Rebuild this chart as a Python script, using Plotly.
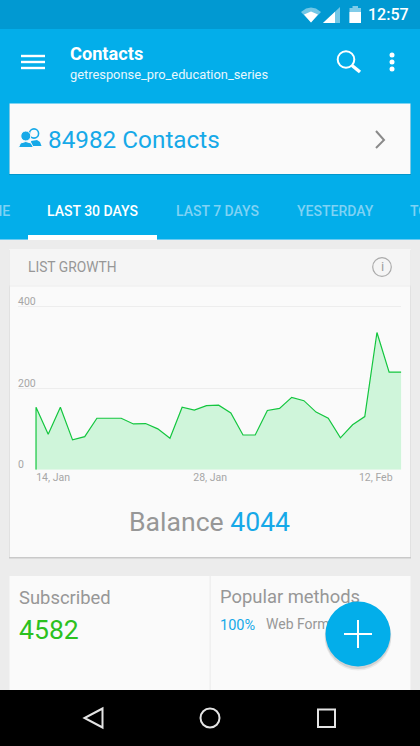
# -*- coding: utf-8 -*-
"""List growth screen, rebuilt with plotly."""
import plotly.graph_objects as go

W, H = 420, 746

# chart data
days = list(range(31))
growth = [153, 87, 153, 73, 81, 126, 126, 126, 112, 113, 100, 77, 153, 146, 157, 158,
          139, 85, 85, 145, 150, 177, 169, 141, 126, 78, 110, 130, 336, 239, 239]
y_ticks = [0, 200, 400]
x_tick_pos = [1.4, 14.3, 27.9]
x_tick_text = ["14, Jan", "28, Jan", "12, Feb"]

# screen texts
tabs = ["ALL TIME", "LAST 30 DAYS", "LAST 7 DAYS", "YESTERDAY", "TODAY"]
contacts_total = 84982
balance = 4044
subscribed = 4582

BLUE = "#03aeea"
TEXT_BLUE = "#16a9e8"
GREY = "#979797"
CARD = "#fafafa"
FONT = "Roboto"


def px(x):
    return x / W


def py(y):
    return 1 - y / H


shapes = []
annotations = []


def rect(x0, y0, x1, y1, color, layer="below"):
    shapes.append(dict(type="rect", xref="paper", yref="paper", layer=layer,
                       x0=px(x0), x1=px(x1), y0=py(y0), y1=py(y1),
                       fillcolor=color, line_width=0))


def circle(cx, cy, r, fill="rgba(0,0,0,0)", line=None, width=0, layer="below"):
    shapes.append(dict(type="circle", xref="paper", yref="paper", layer=layer,
                       x0=px(cx - r), x1=px(cx + r), y0=py(cy - r), y1=py(cy + r),
                       fillcolor=fill, line=dict(color=line, width=width)))


def path(points, fill=None, line=None, width=0, close=True, layer="below"):
    d = "M" + " L".join(f"{px(x):.5f},{py(y):.5f}" for x, y in points)
    if close:
        d += " Z"
    shapes.append(dict(type="path", xref="paper", yref="paper", layer=layer, path=d,
                       fillcolor=fill if fill else "rgba(0,0,0,0)",
                       line=dict(color=line, width=width)))


def label(x, y, text, size, color, anchor="left", weight=400):
    # annotations sit about 1px inside their anchor
    x += {"left": -1, "right": 2, "center": 0}[anchor]
    annotations.append(dict(xref="paper", yref="paper", x=px(x), y=py(y - 0.7), text=text,
                            showarrow=False, xanchor=anchor, yanchor="middle",
                            borderpad=0, font=dict(family=FONT, size=size, color=color,
                                                   weight=weight)))


# backgrounds
rect(0, 0, W, H, "#ececec")
rect(0, 0, W, 29, "#0199d2")
rect(0, 29, W, 240, BLUE)

# status bar
path([(301, 12), (306, 8.5), (311, 7.5), (316, 8.5), (321, 12), (311, 22.5)],
     fill="rgba(255,255,255,0.45)")
path([(304, 14.5), (311, 11.5), (318, 14.5), (311, 22.5)], fill="white")
path([(323, 23), (340, 7), (340, 23)], fill="rgba(255,255,255,0.45)")
path([(323, 23), (335, 11.7), (335, 23)], fill="white")
rect(349.5, 8, 361, 23, "rgba(255,255,255,0.5)")
rect(352.5, 6, 358, 8, "rgba(255,255,255,0.5)")
rect(349.5, 12, 361, 23, "white")
label(408, 15.5, "12:57", 16, "white", "right", 500)

# app bar
for yy in (56, 62, 68):
    rect(21, yy - 1.2, 45, yy + 1.2, "white")
label(70, 54, "Contacts", 18.2, "white", weight=700)
label(70, 75, "getresponse_pro_education_series", 12.85, "#e8f7fd")
circle(346, 59.5, 8.3, line="white", width=2)
path([(352, 65.5), (360, 72)], line="white", width=3.4, close=False)
for yy in (55, 62, 69):
    circle(392, yy, 2.5, fill="white")

# contacts card
rect(9, 104, 411, 175, "rgba(0,60,90,0.2)")
rect(9.5, 103.5, 410.5, 174, CARD)
circle(34, 133.5, 4.6, fill=CARD, line=TEXT_BLUE, width=1.6)
path([(31, 141), (37, 140), (40, 142), (41.5, 146), (32, 146)], fill=TEXT_BLUE)
circle(25.8, 136, 5, fill=TEXT_BLUE, line=CARD, width=1)
path([(18.5, 147.5), (20.5, 143), (25.8, 141.5), (31, 143), (33.5, 147.5)], fill=TEXT_BLUE,
     line=CARD, width=1)
label(48, 140, f"{contacts_total} Contacts", 24.3, TEXT_BLUE)
path([(376, 131), (384, 140), (376, 148)], line="#8a8a8a", width=2, close=False)

# tabs
rect(0, 239, W, 240, "#6ccbf2")
rect(28, 235, 157, 240, "white")
label(9, 212, tabs[0], 14, "#7fd2f4", "right", 500)
label(47, 212, tabs[1], 14, "white", weight=500)
label(176, 212, tabs[2], 14, "#7fd2f4", weight=500)
label(297, 212, tabs[3], 14, "#7fd2f4", weight=500)
label(410, 212, tabs[4], 14, "#7fd2f4", weight=500)

# list growth card
rect(9, 250, 411, 558.5, "#c9c9c9")
rect(9.5, 249, 410.5, 557, CARD)
rect(9.5, 249, 410.5, 285.5, "#f5f5f5")
rect(9.5, 285.5, 410.5, 286.5, "#ececec")
label(28, 267.5, "LIST GROWTH", 13.8, GREY)
circle(382, 267, 9.3, line="#ababab", width=1.2)
label(382, 267, "i", 13, "#a0a0a0", "center")
label(209.5, 522, f"Balance <span style='color:{TEXT_BLUE}'>{balance}</span>", 26.6, GREY, "center")

# bottom card
rect(9.5, 576, 410.5, 690, CARD)
rect(209.5, 576, 210.8, 690, "#eeeeee")
label(19, 598.5, "Subscribed", 18.4, GREY)
label(19, 630, str(subscribed), 26.6, "#2cc11f")
label(220, 626, "100%", 14.5, TEXT_BLUE)

# floating button, above the clipped texts
circle(358, 637, 33.5, fill="rgba(0,0,0,0.06)", layer="above")
circle(358, 636, 33, fill="rgba(0,0,0,0.10)", layer="above")
circle(358, 634, 32.5, fill=BLUE, layer="above")
path([(344, 634), (372, 634)], line="white", width=2, close=False, layer="above")
path([(358, 620), (358, 648)], line="white", width=2, close=False, layer="above")

# navigation bar
rect(0, 690, W, H, "black", layer="above")
path([(102.5, 708.5), (84.5, 718), (102.5, 727.5)], line="#e4e4e4", width=2, layer="above")
circle(210, 718, 9.5, line="#e4e4e4", width=2, layer="above")
path([(318, 709.5), (335, 709.5), (335, 727), (318, 727)], line="#e4e4e4", width=2, layer="above")

fig = go.Figure()
fig.add_trace(go.Scatter(
    x=[days[0]] + days, y=[0] + growth, mode="lines", fill="tozeroy",
    line=dict(color="#14c63f", width=1.2), fillcolor="#cff5da", hoverinfo="skip",
))
# these two sit under the floating button, so they have to be traces
fig.add_trace(go.Scatter(
    x=[220, 266], y=[598, 625.5], xaxis="x2", yaxis="y2", mode="text",
    text=["Popular methods", "Web Forms"], textposition="middle right",
    textfont=dict(family=FONT, size=[18.4, 14], color=GREY), cliponaxis=False,
    hoverinfo="skip",
))

fig.update_layout(
    width=W, height=H, margin=dict(l=0, r=0, t=0, b=0, autoexpand=False), showlegend=False,
    paper_bgcolor="#ececec", plot_bgcolor="rgba(0,0,0,0)",
    shapes=shapes, annotations=annotations,
    font=dict(family=FONT),
    xaxis=dict(domain=[px(18), px(401.3)], range=[-1.48, 30], showgrid=False, zeroline=False,
               showline=False, tickmode="array", tickvals=x_tick_pos, ticktext=x_tick_text,
               ticks="", tickfont=dict(size=10.5, color="#a6a6a6"), fixedrange=True),
    yaxis=dict(domain=[py(469.7), py(304.3)], range=[0, 405], tickmode="array", tickvals=y_ticks,
               showgrid=True, gridcolor="#ededed", gridwidth=1, zeroline=False, showline=False,
               ticklabelposition="inside", ticklabeloverflow="allow", ticklabelshift=-5,
               ticklabelstandoff=-3, ticks="",
               tickfont=dict(size=10.5, color="#a6a6a6"), fixedrange=True),
    xaxis2=dict(domain=[0, 1], range=[0, W], visible=False, anchor="y2"),
    yaxis2=dict(domain=[0, 1], range=[H, 0], visible=False, anchor="x2"),
)

fig.write_html("out.html", config=dict(displayModeBar=False),
               post_script="document.body.style.margin = '0';")
